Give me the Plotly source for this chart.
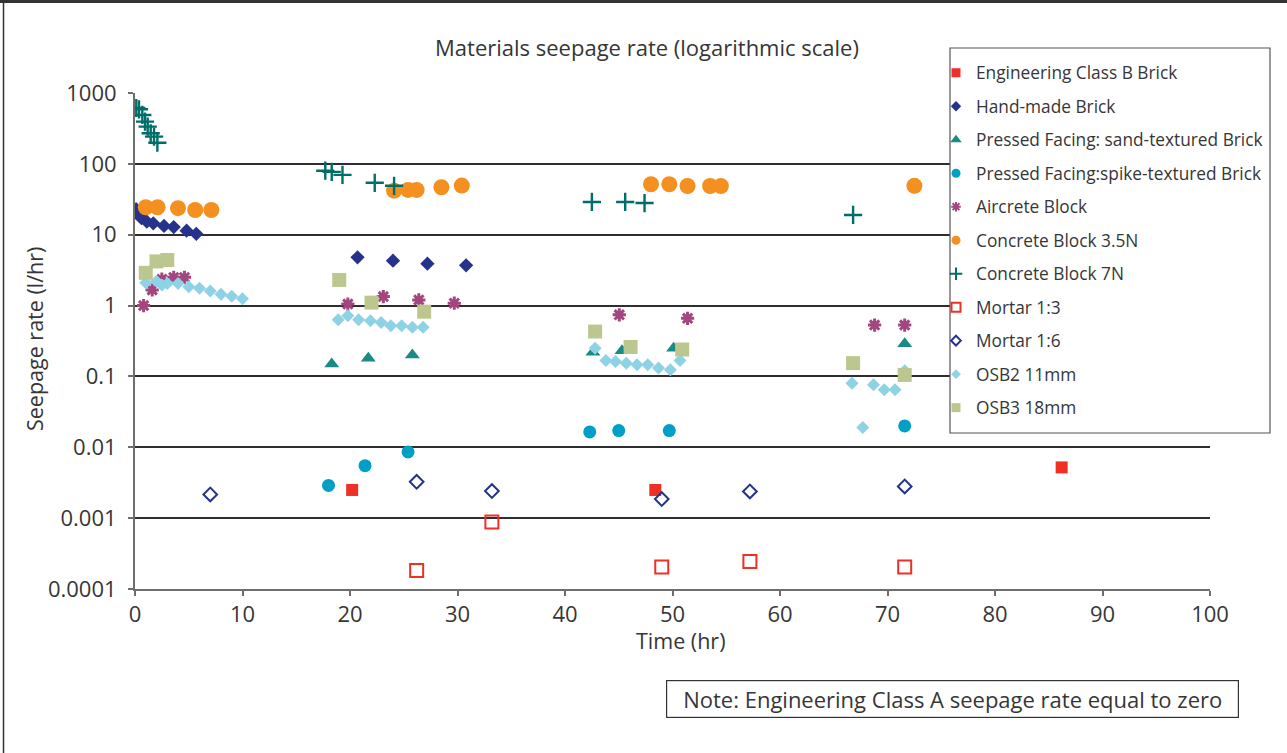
import plotly.graph_objects as go

# ---- data ----
eng_b_x = [20.2, 48.4, 86.2]
eng_b_y = [0.0025, 0.0025, 0.0052]

hand_x = [0.1, 0.3, 0.6, 1.1, 1.7, 2.7, 3.6, 4.8, 5.7, 20.7, 24.0, 27.2, 30.8]
hand_y = [22.9, 20.1, 17.1, 15.3, 14.5, 13.3, 12.8, 11.4, 10.3, 4.8, 4.3, 3.9, 3.7]

sand_x = [18.3, 21.7, 25.8, 42.6, 45.3, 50.1, 71.6]
sand_y = [0.15, 0.18, 0.2, 0.22, 0.23, 0.25, 0.29]

spike_x = [18.0, 21.4, 25.4, 42.3, 45.0, 49.7, 71.6]
spike_y = [0.0029, 0.0055, 0.0086, 0.0165, 0.0172, 0.0172, 0.020]

aircrete_x = [0.8, 1.6, 2.5, 3.6, 4.6, 19.8, 23.1, 26.4, 29.7, 45.05, 51.4, 68.8, 71.6]
aircrete_y = [1.0, 1.66, 2.36, 2.5, 2.5, 1.05, 1.34, 1.2, 1.08, 0.74, 0.66, 0.53, 0.53]

c35_x = [1.0, 2.1, 4.0, 5.6, 7.1, 24.1, 25.4, 26.2, 28.5, 30.4, 48.0, 49.7, 51.4, 53.5, 54.5, 72.5]
c35_y = [24.4, 24.4, 23.7, 22.3, 22.3, 41.9, 42.9, 42.9, 46.8, 49.3, 51.5, 51.5, 48.7, 48.7, 48.7, 49]

c7_x = [0.12, 0.37, 0.68, 0.93, 1.18, 1.46, 1.77, 2.08, 17.7, 18.3, 19.3, 22.3, 24.1, 42.5, 45.6, 47.4, 66.8]
c7_y = [614, 589, 490, 394, 335, 270, 242, 199, 80, 77, 70, 54, 49, 29, 29, 28, 19]

m13_x = [26.2, 33.2, 49.0, 57.2, 71.6]
m13_y = [0.000183, 0.00088, 0.000204, 0.000245, 0.000204]

m16_x = [7.0, 26.2, 33.2, 49.0, 57.2, 71.6]
m16_y = [0.00216, 0.00326, 0.00241, 0.00186, 0.00238, 0.0028]

osb2_x = [1, 2, 2.5, 3, 4, 5, 6, 7, 8, 9, 10,
          18.9, 19.8, 20.8, 21.9, 22.9, 23.8, 24.8, 25.8, 26.8,
          42.8, 43.8, 44.7, 45.7, 46.7, 47.7, 48.7, 49.8, 50.7,
          66.7, 67.7, 68.7, 69.7, 70.7, 71.6]
osb2_y = [2.1, 2.2, 1.95, 2.05, 2.05, 1.85, 1.75, 1.6, 1.45, 1.35, 1.25,
          0.63, 0.72, 0.63, 0.61, 0.575, 0.52, 0.52, 0.495, 0.495,
          0.25, 0.168, 0.162, 0.154, 0.146, 0.146, 0.131, 0.124, 0.168,
          0.08, 0.019, 0.076, 0.065, 0.065, 0.12]

osb3_x = [1.0, 2.0, 3.0, 19.0, 22.0, 26.9, 42.8, 46.1, 50.9, 66.8, 71.6]
osb3_y = [2.9, 4.2, 4.4, 2.3, 1.1, 0.82, 0.43, 0.26, 0.24, 0.154, 0.105]

y_ticks = [0.0001, 0.001, 0.01, 0.1, 1, 10, 100, 1000]
y_ticktext = ["0.0001", "0.001", "0.01", "0.1", "1", "10", "100", "1000"]

# ---- styles: (name, x, y, symbol, colour, plot size, legend size, open line width) ----
series = [
    ("Engineering Class B Brick", eng_b_x, eng_b_y, "square", "#EE3124", 12, 9, 0),
    ("Hand-made Brick", hand_x, hand_y, "diamond", "#25338C", 11, 8, 0),
    ("Pressed Facing: sand-textured Brick", sand_x, sand_y, "triangle-up", "#1A8B84", 13, 10, 0),
    ("Pressed Facing:spike-textured Brick", spike_x, spike_y, "circle", "#009FC6", 13, 9, 0),
    ("Aircrete Block", aircrete_x, aircrete_y, "asterisk-open", "#A3457E", 11, 8, 3),
    ("Concrete Block 3.5N", c35_x, c35_y, "circle", "#F39020", 16, 9, 0),
    ("Concrete Block 7N", c7_x, c7_y, "cross-thin-open", "#006E68", 13, 9, 2.4),
    ("Mortar 1:3", m13_x, m13_y, "square-open", "#EE3124", 13, 9, 2),
    ("Mortar 1:6", m16_x, m16_y, "diamond-open", "#25338C", 10.5, 7.5, 2),
    ("OSB2 11mm", osb2_x, osb2_y, "diamond", "#8ED2E6", 10, 7.5, 0),
    ("OSB3 18mm", osb3_x, osb3_y, "square", "#BCC78F", 14, 9, 0),
]

fig = go.Figure()
# data traces (drawn in series order, later series on top)
for i, (name, xs, ys, sym, col, size, lsize, lw) in enumerate(series):
    mk = dict(symbol=sym, size=size, color=col)
    if lw:
        mk["line"] = dict(color=col, width=lw)
    fig.add_trace(go.Scatter(x=xs, y=ys, mode="markers", name=name, marker=mk,
                             showlegend=False, legendgroup=f"g{i}"))
# legend entries with the small Excel-style legend markers
for i, (name, xs, ys, sym, col, size, lsize, lw) in enumerate(series):
    mk = dict(symbol=sym, size=lsize, color=col)
    if lw:
        mk["line"] = dict(color=col, width=min(lw, 2))
    fig.add_trace(go.Scatter(x=[None], y=[None], mode="markers", name=name, marker=mk,
                             showlegend=True, legendgroup=f"g{i}"))

FONT = "Open Sans"
TXT = "#363636"

# plot area: x 135..1210, y 93..589 px
L, R, T, B = 135, 1287 - 1210, 93, 753 - 589
PW, PH = 1075, 496

def u(px):
    return (px - L) / PW

def v(py):
    return (589 - py) / PH

fig.update_layout(
    width=1287, height=753,
    margin=dict(l=L, r=R, t=T, b=B, autoexpand=False),
    paper_bgcolor="white", plot_bgcolor="white",
    font=dict(family=FONT, color=TXT, size=21),
    showlegend=True,
    title=dict(text="Materials seepage rate (logarithmic scale)", x=647 / 1287, xanchor="center",
               y=1 - 48 / 753, yanchor="middle", font=dict(size=22, color=TXT, family=FONT)),
    legend=dict(x=u(936), xanchor="left", y=v(55), yanchor="top",
                bgcolor="rgba(0,0,0,0)", borderwidth=0,
                font=dict(size=17.3, color=TXT, family=FONT),
                traceorder="grouped", tracegroupgap=8, itemwidth=30),
    xaxis=dict(range=[0, 100], dtick=10, tick0=0, showgrid=False, zeroline=False,
               showline=True, linecolor="#6e6e6e", linewidth=2,
               ticks="outside", ticklen=5, tickcolor="#6e6e6e", tickwidth=1.5,
               tickfont=dict(size=22, color=TXT), fixedrange=True),
    yaxis=dict(type="log", range=[-4, 3], tickvals=y_ticks, ticktext=y_ticktext,
               showgrid=True, gridcolor="#2e2e2e", gridwidth=1.5, zeroline=False,
               showline=True, linecolor="#6e6e6e", linewidth=2,
               ticks="outside", ticklen=5, tickcolor="#6e6e6e", tickwidth=1.5,
               ticklabelstandoff=7,
               tickfont=dict(size=22, color=TXT), fixedrange=True),
    annotations=[
        dict(text="Seepage rate (l/hr)", xref="paper", yref="paper", x=u(34), y=v(339),
             textangle=-90, showarrow=False, font=dict(size=21.5, color=TXT),
             xanchor="center", yanchor="middle"),
        dict(text="Time (hr)", xref="paper", yref="paper", x=u(681), y=v(640),
             showarrow=False, font=dict(size=21.5, color=TXT), xanchor="center", yanchor="middle"),
        dict(text="Note: Engineering Class A seepage rate equal to zero", xref="paper", yref="paper",
             x=u(952), y=v(699), showarrow=False, font=dict(size=22, color=TXT),
             xanchor="center", yanchor="middle", width=567, height=32, borderpad=2,
             bordercolor="#333333", borderwidth=1.2, bgcolor="white", align="center"),
    ],
    shapes=[
        # legend box (covers markers underneath, as in the reference)
        dict(type="rect", xref="paper", yref="paper", x0=u(950), x1=u(1270), y0=v(433), y1=v(48),
             fillcolor="white", line=dict(color="#555555", width=1.2), layer="above"),
        # outer frame
        dict(type="line", xref="paper", yref="paper", x0=u(0), x1=u(1287), y0=v(1.5), y1=v(1.5),
             line=dict(color="#333333", width=3)),
        dict(type="line", xref="paper", yref="paper", x0=u(3.5), x1=u(3.5), y0=v(0), y1=v(753),
             line=dict(color="#333333", width=1.5)),
    ],
)

fig.write_html("out.html", config={"displayModeBar": False},
               post_script="document.body.style.margin='0px';")
